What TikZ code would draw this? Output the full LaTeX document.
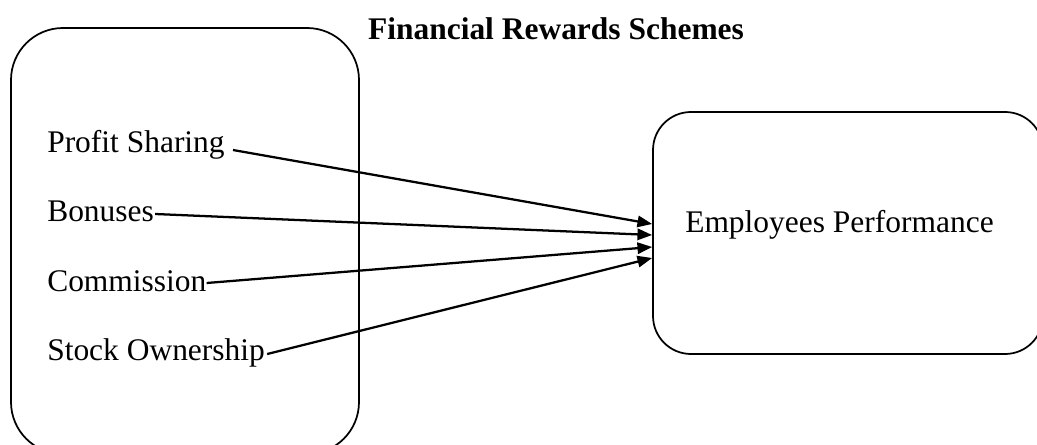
\documentclass[tikz,border=0pt]{standalone}
\usepackage{fontspec}
\setmainfont{Liberation Serif}
\usetikzlibrary{arrows.meta,calc}
\begin{document}
\begin{tikzpicture}[x=0.75pt,y=-0.75pt,
  panel/.style={draw,line width=1.3pt,inner sep=0},
  item/.style={inner sep=0,anchor=base west,font=\fontsize{23.6}{28}\selectfont},
  link/.style={line width=1.7pt,-{Triangle[length=11pt,width=8.5pt]}}
]
\useasboundingbox (0,0) rectangle (1037,445);
\clip (0,0) rectangle (1037,445);

% title
\node[inner sep=0,anchor=base,font=\fontsize{23.6}{28}\selectfont\bfseries]
  (title) at (556,40) {Financial Rewards Schemes};

% the two panels
\node[panel,rounded corners=39pt,minimum width=261pt,minimum height=319.5pt]
  (schemes) at (185,241) {};
\node[panel,rounded corners=28.5pt,minimum width=292.5pt,minimum height=181.5pt]
  (perf) at (848,233) {};

% items
\node[item] (ps) at (47,153) {Profit Sharing};
\node[item] (bo) at (47,221) {Bonuses};
\node[item] (co) at (47,291) {Commission};
\node[item] (so) at (47,360) {Stock Ownership};
\node[item] (ep) at (685,232) {Employees Performance};

% connector ends
\coordinate (ps-out) at ($(ps.base east)+(8,-3)$);
\coordinate (bo-out) at ($(bo.base east)+(1,-7)$);
\coordinate (co-out) at ($(co.base east)+(0,-8)$);
\coordinate (so-out) at ($(so.base east)+(2,-6)$);
\coordinate (t1) at ($(perf.west)+(0,-9)$);
\coordinate (t2) at ($(perf.west)+(0,2)$);
\coordinate (t3) at ($(perf.west)+(0,14)$);
\coordinate (t4) at ($(perf.west)+(0,25)$);

\draw[link] (ps-out) -- (t1);
\draw[link] (bo-out) -- (t2);
\draw[link] (co-out) -- (t3);
\draw[link] (so-out) -- (t4);
\end{tikzpicture}
\end{document}
